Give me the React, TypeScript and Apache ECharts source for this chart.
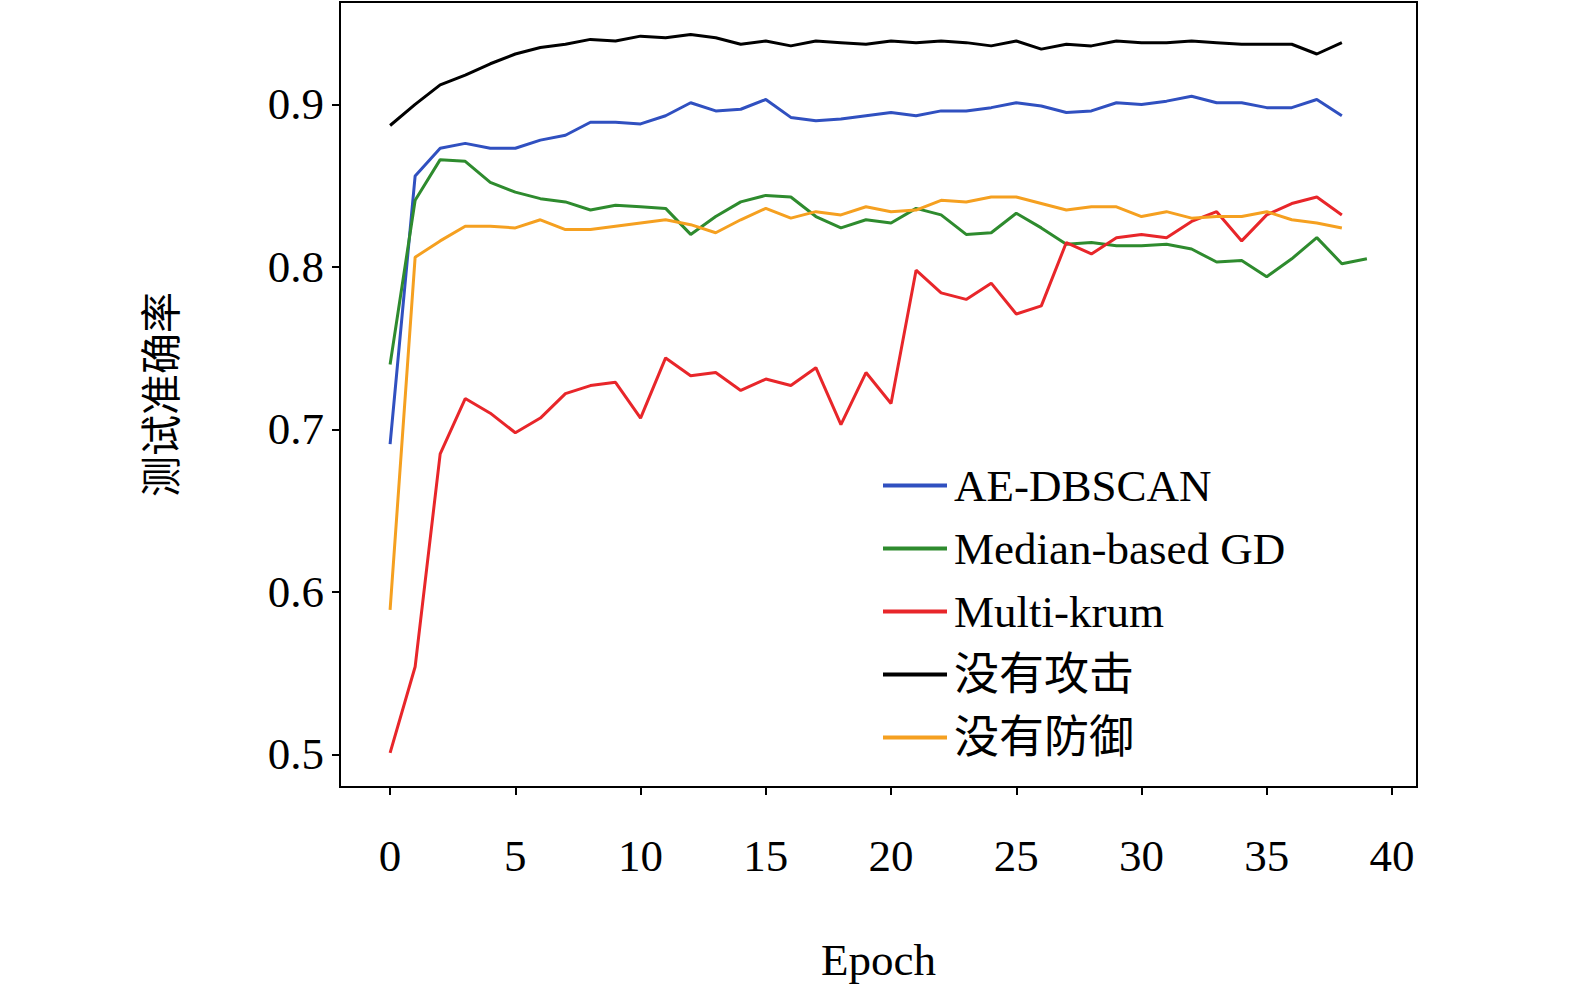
import React, { useEffect, useRef } from 'react';
import * as echarts from 'echarts';

const epochs = Array.from({ length: 40 }, (_, i) => i);

const aeDbscan = [0.691, 0.856, 0.873, 0.876, 0.873, 0.873, 0.878, 0.881, 0.889, 0.889, 0.888, 0.893, 0.901, 0.896, 0.897, 0.903, 0.892, 0.890, 0.891, 0.893, 0.895, 0.893, 0.896, 0.896, 0.898, 0.901, 0.899, 0.895, 0.896, 0.901, 0.900, 0.902, 0.905, 0.901, 0.901, 0.898, 0.898, 0.903, 0.893];
const medianGd = [0.740, 0.841, 0.866, 0.865, 0.852, 0.846, 0.842, 0.840, 0.835, 0.838, 0.837, 0.836, 0.820, 0.831, 0.840, 0.844, 0.843, 0.831, 0.824, 0.829, 0.827, 0.836, 0.832, 0.820, 0.821, 0.833, 0.824, 0.814, 0.815, 0.813, 0.813, 0.814, 0.811, 0.803, 0.804, 0.794, 0.805, 0.818, 0.802, 0.805];
const multiKrum = [0.501, 0.554, 0.685, 0.719, 0.710, 0.698, 0.707, 0.722, 0.727, 0.729, 0.707, 0.744, 0.733, 0.735, 0.724, 0.731, 0.727, 0.738, 0.703, 0.735, 0.716, 0.798, 0.784, 0.780, 0.790, 0.771, 0.776, 0.815, 0.808, 0.818, 0.820, 0.818, 0.828, 0.834, 0.816, 0.832, 0.839, 0.843, 0.832];
const noAttack = [0.887, 0.900, 0.912, 0.918, 0.925, 0.931, 0.935, 0.937, 0.940, 0.939, 0.942, 0.941, 0.943, 0.941, 0.937, 0.939, 0.936, 0.939, 0.938, 0.937, 0.939, 0.938, 0.939, 0.938, 0.936, 0.939, 0.934, 0.937, 0.936, 0.939, 0.938, 0.938, 0.939, 0.938, 0.937, 0.937, 0.937, 0.931, 0.938];
const noDefense = [0.589, 0.806, 0.816, 0.825, 0.825, 0.824, 0.829, 0.823, 0.823, 0.825, 0.827, 0.829, 0.826, 0.821, 0.829, 0.836, 0.830, 0.834, 0.832, 0.837, 0.834, 0.835, 0.841, 0.840, 0.843, 0.843, 0.839, 0.835, 0.837, 0.837, 0.831, 0.834, 0.830, 0.831, 0.831, 0.834, 0.829, 0.827, 0.824];

const xTicks = [0, 5, 10, 15, 20, 25, 30, 35, 40];
const yTicks = [0.5, 0.6, 0.7, 0.8, 0.9];

const seriesDefs = [
  { name: 'AE-DBSCAN', data: aeDbscan, color: '#3050c0' },
  { name: 'Median-based GD', data: medianGd, color: '#2e8b2e' },
  { name: 'Multi-krum', data: multiKrum, color: '#e8262a' },
  { name: '没有攻击', data: noAttack, color: '#000000' },
  { name: '没有防御', data: noDefense, color: '#f5a020' },
];

const font = '"Liberation Serif", "Noto Sans CJK SC", serif';

document.body.style.margin = '0';
document.body.style.overflow = 'hidden';

const App: React.FC = () => {
  const chartRef = useRef<HTMLDivElement>(null);

  useEffect(() => {
    const chart = echarts.init(chartRef.current!, undefined, { renderer: 'svg' });

    chart.setOption({
      animation: false,
      backgroundColor: '#fff',
      grid: {
        left: 340, right: 158, top: 2, bottom: 187,
        show: true, borderColor: '#000', borderWidth: 2,
      },
      legend: {
        orient: 'vertical',
        left: 878,
        top: 458,
        icon: 'rect',
        itemWidth: 64,
        itemHeight: 4,
        itemGap: 18,
        textStyle: { fontFamily: font, fontSize: 45, color: '#000', padding: [0, 0, 0, 2] },
        data: seriesDefs.map(s => s.name),
      },
      xAxis: {
        type: 'value',
        min: -2,
        max: 41,
        name: 'Epoch',
        nameLocation: 'middle',
        nameGap: 150,
        nameTextStyle: { fontFamily: font, fontSize: 45, color: '#000' },
        axisLine: { onZero: false, lineStyle: { color: '#000', width: 2 } },
        axisTick: { customValues: xTicks, length: 8, lineStyle: { color: '#000', width: 2 } },
        axisLabel: { customValues: xTicks, margin: 46, fontFamily: font, fontSize: 45, color: '#000' },
        splitLine: { show: false },
      },
      yAxis: {
        type: 'value',
        min: 0.48,
        max: 0.963,
        name: '测试准确率',
        nameLocation: 'middle',
        nameGap: 162,
        nameTextStyle: { fontFamily: '"Noto Sans CJK SC", sans-serif', fontSize: 41, color: '#000' },
        axisLine: { show: true, onZero: false, lineStyle: { color: '#000', width: 2 } },
        axisTick: { show: true, customValues: yTicks, length: 8, lineStyle: { color: '#000', width: 2 } },
        axisLabel: {
          customValues: yTicks, margin: 16, fontFamily: font, fontSize: 45, color: '#000',
          formatter: (v: number) => v.toFixed(1),
        },
        splitLine: { show: false },
      },
      series: seriesDefs.map(s => ({
        name: s.name,
        type: 'line',
        data: s.data.map((v, i) => [epochs[i], v]),
        showSymbol: false,
        symbol: 'none',
        color: s.color,
        lineStyle: { color: s.color, width: 3 },
      })),
    });

    const handleResize = () => chart.resize();
    window.addEventListener('resize', handleResize);
    return () => {
      chart.dispose();
      window.removeEventListener('resize', handleResize);
    };
  }, []);

  return <div ref={chartRef} style={{ width: '1575px', height: '987px' }} />;
};

export default App;
